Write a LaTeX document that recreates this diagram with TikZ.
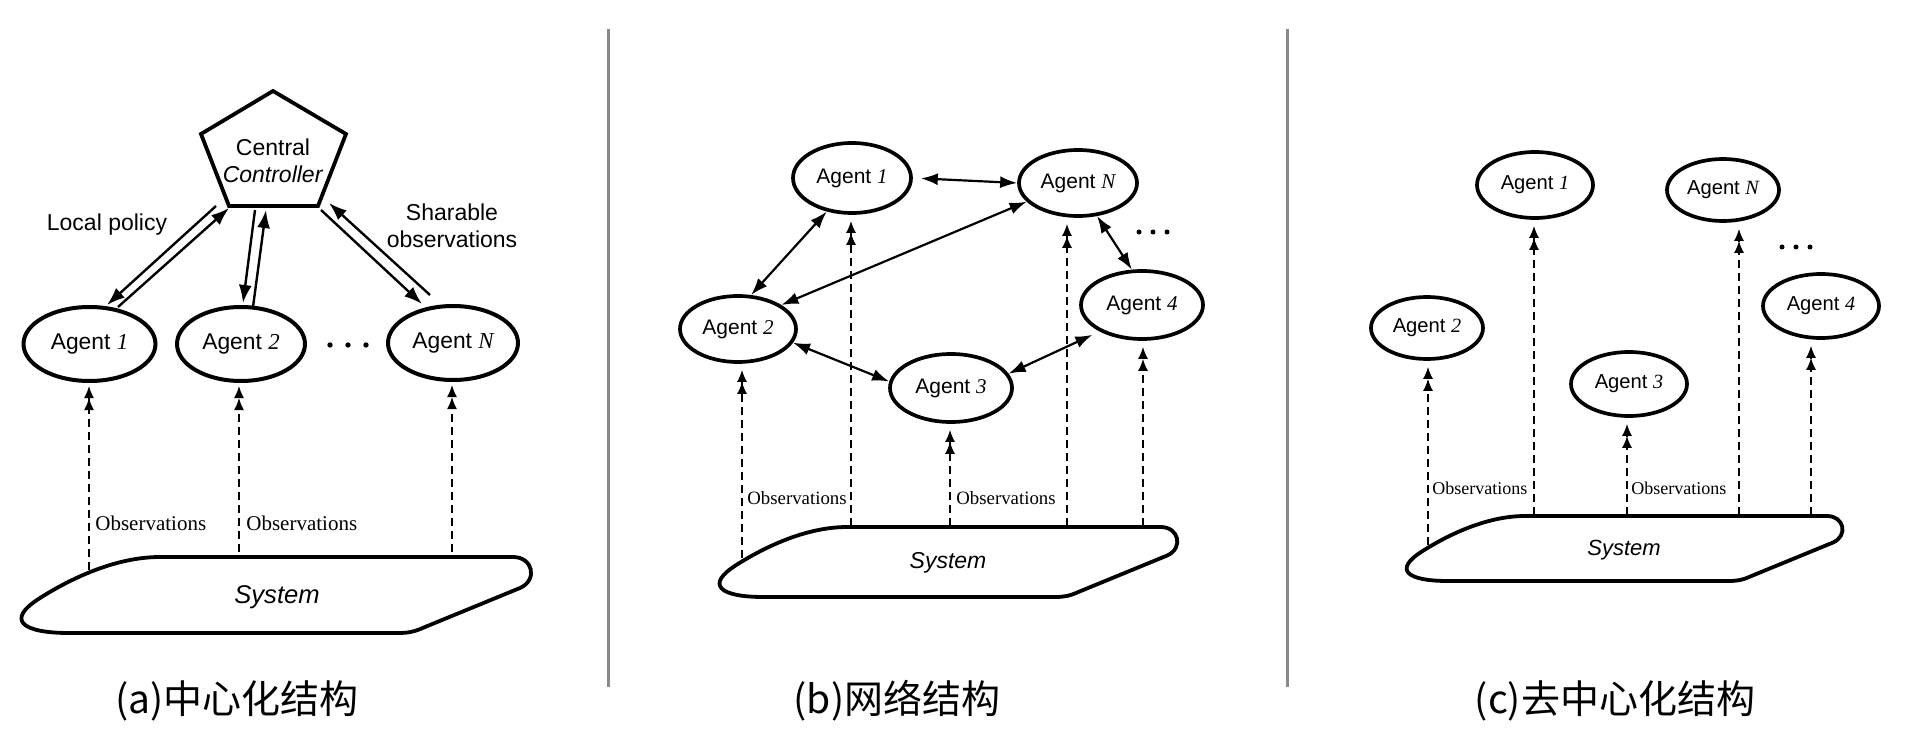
\documentclass[tikz,border=0pt]{standalone}
\usepackage{fontspec}
\setmainfont{Liberation Sans}
\newfontfamily\tnr{Liberation Serif}
\newfontfamily\cjk{Noto Sans CJK SC}
\usetikzlibrary{shapes.geometric,arrows.meta}
\definecolor{sepgray}{RGB}{138,138,138}
% system outline: xmin, xmax, top y, scale
\newcommand\sysoutline[4]{%
  \draw[sysline] ({#1+137*#4},#3) -- ({#2-21*#4},#3)
    .. controls ({#2-1*#4},#3) and ({#2+4*#4},{#3+23*#4}) .. ({#2-14*#4},{#3+31*#4})
    -- ({#2-109*#4},{#3+70*#4})
    .. controls ({#2-120*#4},{#3+75*#4}) and ({#2-126*#4},{#3+76*#4}) .. ({#2-136*#4},{#3+76*#4})
    -- ({#1+46*#4},{#3+76*#4})
    .. controls ({#1-1*#4},{#3+76*#4}) and ({#1-18*#4},{#3+63*#4}) .. ({#1+17*#4},{#3+41*#4})
    .. controls ({#1+47*#4},{#3+22*#4}) and ({#1+92*#4},#3) .. ({#1+137*#4},#3) -- cycle;}
\newcommand\agt[1]{Agent~{\tnr\itshape #1}}
\begin{document}
\begin{tikzpicture}[x=0.5pt,y=-0.5pt,
  agent/.style={ellipse,draw,line width=1.85pt,inner sep=0pt,font=\fontsize{10.5}{12}\selectfont},
  agentA/.style={agent,line width=2pt,font=\fontsize{11.4}{13}\selectfont},
  agentC/.style={agent,font=\fontsize{10.1}{12}\selectfont},
  sysline/.style={line width=1.9pt,line join=round},
  systxt/.style={font=\fontsize{#1}{#1}\selectfont\itshape,inner sep=0pt},
  obs/.style={line width=0.8pt,dash pattern=on 4pt off 2.5pt,shorten >=1.5pt,
    -{Latex[length=6pt,width=5pt]Latex[length=6pt,width=5pt]}},
  obstxt/.style={font=\tnr\fontsize{#1}{#1}\selectfont,inner sep=0pt,anchor=west},
  arrA/.style={line width=1.2pt,-{Latex[length=9pt,width=6.5pt]}},
  bi/.style={line width=1.1pt,{Latex[length=8.5pt,width=6pt]}-{Latex[length=8.5pt,width=6pt]}},
  lbl/.style={font=\fontsize{11.5}{13.5}\selectfont,inner sep=0pt,align=center},
  captxt/.style={font=\cjk\fontsize{19.5}{22}\selectfont,inner sep=0pt},
  sepline/.style={draw=sepgray,line width=1.5pt}]
\useasboundingbox (0,0) rectangle (1928,754);
\fill[white] (0,0) rectangle (1928,754);

% separators
\draw[sepline] (608,29) -- (608,687);
\draw[sepline] (1287,29) -- (1287,687);

% ================= (a) =================
\coordinate (pt) at (273,91);
\coordinate (pr) at (346,134);
\coordinate (pbr) at (318,206);
\coordinate (pbl) at (229,206);
\coordinate (pl) at (201,134);
\draw[line width=1.9pt,line join=miter] (pt) -- (pr) -- (pbr) -- (pbl) -- (pl) -- cycle;
\node[lbl] (cc) at (273,161) {Central\\\textit{Controller}};

\node[agentA,minimum width=66pt,minimum height=37pt] (a1) at (89.5,344) {\agt{1}};
\node[agentA,minimum width=64pt,minimum height=37pt] (a2) at (241,344) {\agt{2}};
\node[agentA,minimum width=65pt,minimum height=37pt] (aN) at (453,343) {\agt{N}};
\foreach \x in {330,348,366} \fill (\x,345) circle (1.35pt);

\node[lbl] (lp) at (107,225) {Local policy};
\node[lbl] (so) at (452,226) {Sharable\\observations};

\coordinate (a1s) at (216,206); \coordinate (a1e) at (107,305);
\coordinate (a1u) at (118,307); \coordinate (a1v) at (229,208);
\coordinate (a2s) at (255,210); \coordinate (a2e) at (243,303);
\coordinate (a2u) at (253,307); \coordinate (a2v) at (266,210);
\coordinate (aNs) at (321,210); \coordinate (aNe) at (422,304);
\coordinate (aNu) at (430,295); \coordinate (aNv) at (329,203);
\draw[arrA] (a1s) -- (a1e);
\draw[arrA] (a1u) -- (a1v);
\draw[arrA] (a2s) -- (a2e);
\draw[arrA] (a2u) -- (a2v);
\draw[arrA] (aNs) -- (aNe);
\draw[arrA] (aNu) -- (aNv);

\sysoutline{23}{534}{557}{1}
\node[systxt=12.8] (sysa) at (277,597) {System};

\coordinate (oa1) at (89,570);
\coordinate (oa2) at (239,552);
\coordinate (oaN) at (452,552);
\draw[obs] (oa1) -- (oa1 |- a1.south);
\draw[obs] (oa2) -- (oa2 |- a2.south);
\draw[obs] (oaN) -- (oaN |- aN.south);
\node[obstxt=10.5] (ola) at (95,523) {Observations};
\node[obstxt=10.5] (olb) at (246,523) {Observations};

\node[captxt] (capa) at (237,701) {(a)中心化结构};

% ================= (b) =================
\node[agent,minimum width=59pt,minimum height=35pt] (b1) at (852,178) {\agt{1}};
\node[agent,minimum width=59pt,minimum height=33pt] (bN) at (1078,183) {\agt{N}};
\node[agent,minimum width=58pt,minimum height=33pt] (b2) at (738,329) {\agt{2}};
\node[agent,minimum width=61pt,minimum height=34pt] (b4) at (1142,305) {\agt{4}};
\node[agent,minimum width=61pt,minimum height=34pt] (b3) at (951,388) {\agt{3}};
\foreach \x in {1139,1153,1167} \fill (\x,232) circle (1.25pt);

\draw[bi,shorten <=4pt] (b1.0) -- (bN.180);
\draw[bi] (b1.-127) -- (b2.69);
\draw[bi] (bN.-160) -- (b2.29);
\draw[bi] (bN.-60) -- (b4.106);
\draw[bi] (b2.-14) -- (b3.174);
\draw[bi,shorten >=4pt] (b3.14) -- (b4.-148);

\sysoutline{721}{1180}{527}{0.921}
\node[systxt=11.5] (sysb) at (948,563) {System};

\coordinate (ob2) at (742,558);
\coordinate (ob1) at (851,526);
\coordinate (ob3) at (950,526);
\coordinate (obN) at (1067,526);
\coordinate (ob4) at (1143,526);
\draw[obs,shorten >=3pt] (ob2) -- (ob2 |- b2.south);
\draw[obs,shorten >=3pt] (ob1) -- (ob1 |- b1.south);
\draw[obs,shorten >=3pt] (ob3) -- (ob3 |- b3.south);
\draw[obs,shorten >=3pt] (obN) -- (obN |- bN.south);
\draw[obs,shorten >=3pt] (ob4) -- (ob4 |- b4.south);
\node[obstxt=9.4] (olc) at (747,498) {Observations};
\node[obstxt=9.4] (old) at (956,498) {Observations};

\node[captxt] (capb) at (897,701) {(b)网络结构};

% ================= (c) =================
\node[agentC,minimum width=58pt,minimum height=33pt] (c1) at (1535,185) {\agt{1}};
\node[agentC,minimum width=56pt,minimum height=31pt] (cN) at (1723,190) {\agt{N}};
\node[agentC,minimum width=56pt,minimum height=31pt] (c2) at (1427,328) {\agt{2}};
\node[agentC,minimum width=58pt,minimum height=32pt] (c4) at (1821,306) {\agt{4}};
\node[agentC,minimum width=58pt,minimum height=32pt] (c3) at (1629,384) {\agt{3}};
\foreach \x in {1782,1796,1810} \fill (\x,247) circle (1.25pt);

\sysoutline{1408}{1845}{516}{0.855}
\node[systxt=11] (sysc) at (1624,550) {System};

\coordinate (oc2) at (1428,545);
\coordinate (oc1) at (1534,515);
\coordinate (oc3) at (1627,515);
\coordinate (ocN) at (1739,515);
\coordinate (oc4) at (1811,515);
\draw[obs,shorten >=3pt] (oc2) -- (oc2 |- c2.south);
\draw[obs,shorten >=3pt] (oc1) -- (oc1 |- c1.south);
\draw[obs,shorten >=3pt] (oc3) -- (oc3 |- c3.south);
\draw[obs,shorten >=3pt] (ocN) -- (ocN |- cN.south);
\draw[obs,shorten >=3pt] (oc4) -- (oc4 |- c4.south);
\node[obstxt=9] (ole) at (1432,488) {Observations};
\node[obstxt=9] (olf) at (1631,488) {Observations};

\node[captxt] (capc) at (1615,701) {(c)去中心化结构};
\end{tikzpicture}
\end{document}
